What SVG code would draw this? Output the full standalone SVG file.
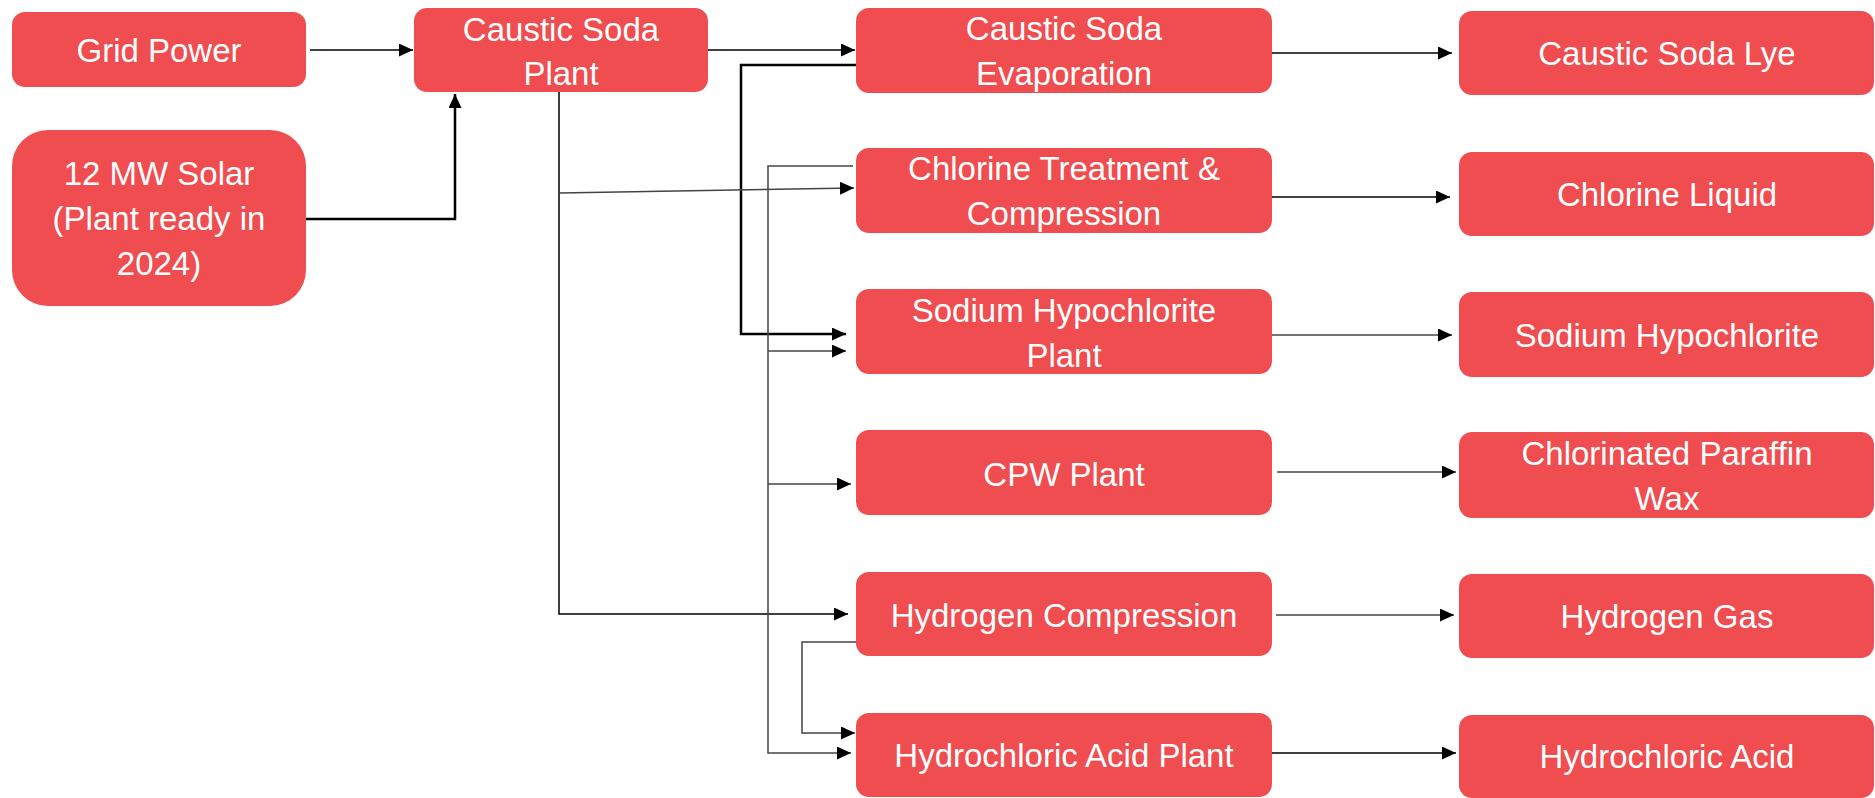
<svg xmlns="http://www.w3.org/2000/svg" width="1875" height="798" viewBox="0 0 1875 798">
<style>
.box{fill:#EF4D50}
.t{fill:#fff;font-family:"Liberation Sans",Arial,sans-serif;font-size:33px;text-anchor:middle}
.c{fill:none;stroke:#000;stroke-width:1.5}
.g{stroke:#444}
.k{stroke-width:2.5}
</style>
<defs>
<marker id="a" markerUnits="userSpaceOnUse" markerWidth="14" markerHeight="13" refX="14" refY="6.5" orient="auto">
<path d="M0,0 L14,6.5 L0,13 z" fill="#000"/>
</marker>
</defs>
<rect width="1875" height="798" fill="#fff"/>
<g id="connectors">
<path class="c" d="M310,50 H413" marker-end="url(#a)"/>
<path class="c k" d="M306,219 H455 V94" marker-end="url(#a)"/>
<path class="c" d="M708,50 H855" marker-end="url(#a)"/>
<path class="c" d="M1272,53 H1452" marker-end="url(#a)"/>
<path class="c k" d="M856,65 H741 V334 H846" marker-end="url(#a)"/>
<path class="c" d="M559,92 V614 H848" marker-end="url(#a)"/>
<path class="c g" d="M559,193 L854,188" marker-end="url(#a)"/>
<path class="c g" d="M853,166 H768 V753 H851" marker-end="url(#a)"/>
<path class="c g" d="M768,351 H846" marker-end="url(#a)"/>
<path class="c g" d="M768,484 H851" marker-end="url(#a)"/>
<path class="c g" d="M856,642 H802 V733 H855" marker-end="url(#a)"/>
<path class="c" d="M1272,197 H1450" marker-end="url(#a)"/>
<path class="c g" d="M1272,335 H1452" marker-end="url(#a)"/>
<path class="c g" d="M1277,472 H1456" marker-end="url(#a)"/>
<path class="c g" d="M1276,615 H1454" marker-end="url(#a)"/>
<path class="c" d="M1272,753 H1456" marker-end="url(#a)"/>
</g>
<g id="grid-power"><rect class="box" x="12" y="12" width="294" height="75" rx="13"/><text class="t" x="159" y="62">Grid Power</text></g>
<g id="solar"><rect class="box" x="12" y="130" width="294" height="176" rx="36"/><text class="t" x="159" y="185">12 MW Solar</text><text class="t" x="159" y="230">(Plant ready in</text><text class="t" x="159" y="275">2024)</text></g>
<g id="caustic-soda-plant"><rect class="box" x="414" y="8" width="294" height="84" rx="13"/><text class="t" x="561" y="41">Caustic Soda</text><text class="t" x="561" y="85">Plant</text></g>
<g id="evaporation"><rect class="box" x="856" y="8" width="416" height="85" rx="13"/><text class="t" x="1064" y="40">Caustic Soda</text><text class="t" x="1064" y="85">Evaporation</text></g>
<g id="chlorine-treatment"><rect class="box" x="856" y="148" width="416" height="85" rx="13"/><text class="t" x="1064" y="180">Chlorine Treatment &amp;</text><text class="t" x="1064" y="225">Compression</text></g>
<g id="hypo-plant"><rect class="box" x="856" y="289" width="416" height="85" rx="13"/><text class="t" x="1064" y="322">Sodium Hypochlorite</text><text class="t" x="1064" y="367">Plant</text></g>
<g id="cpw-plant"><rect class="box" x="856" y="430" width="416" height="85" rx="13"/><text class="t" x="1064" y="486">CPW Plant</text></g>
<g id="hydrogen-compression"><rect class="box" x="856" y="572" width="416" height="84" rx="13"/><text class="t" x="1064" y="627">Hydrogen Compression</text></g>
<g id="hcl-plant"><rect class="box" x="856" y="713" width="416" height="84" rx="13"/><text class="t" x="1064" y="767">Hydrochloric Acid Plant</text></g>
<g id="lye"><rect class="box" x="1459" y="11" width="415" height="84" rx="13"/><text class="t" x="1667" y="65">Caustic Soda Lye</text></g>
<g id="chlorine-liquid"><rect class="box" x="1459" y="152" width="415" height="84" rx="13"/><text class="t" x="1667" y="206">Chlorine Liquid</text></g>
<g id="hypochlorite"><rect class="box" x="1459" y="292" width="415" height="85" rx="13"/><text class="t" x="1667" y="347">Sodium Hypochlorite</text></g>
<g id="cpw"><rect class="box" x="1459" y="432" width="415" height="86" rx="13"/><text class="t" x="1667" y="465">Chlorinated Paraffin</text><text class="t" x="1667" y="510">Wax</text></g>
<g id="hydrogen-gas"><rect class="box" x="1459" y="574" width="415" height="84" rx="13"/><text class="t" x="1667" y="628">Hydrogen Gas</text></g>
<g id="hcl"><rect class="box" x="1459" y="715" width="415" height="83" rx="13"/><text class="t" x="1667" y="768">Hydrochloric Acid</text></g>
</svg>
